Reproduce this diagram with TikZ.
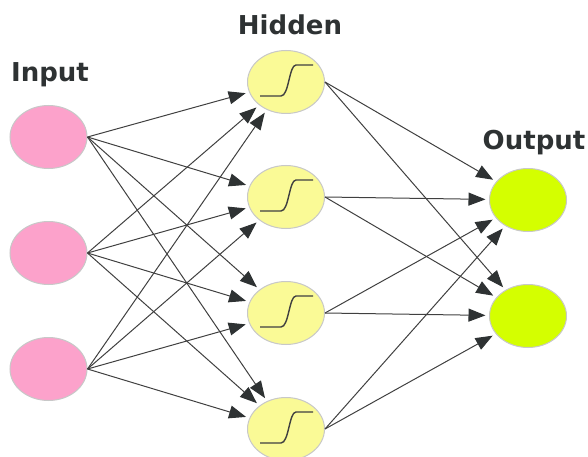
\documentclass[tikz,border=0pt]{standalone}
\usepackage{fontspec}
\usetikzlibrary{shapes.geometric,arrows.meta}
\newfontfamily\labelfont{DejaVu Sans}
\definecolor{inpink}{HTML}{FCA2CB}
\definecolor{hidyellow}{HTML}{FAFA96}
\definecolor{outgreen}{HTML}{D4FF00}
\definecolor{rimgray}{HTML}{C8C8C8}
\definecolor{wiregray}{HTML}{404040}
\definecolor{tipgray}{HTML}{2E3233}
\tikzset{
  neuron/.style={ellipse,draw=rimgray,line width=1pt,inner sep=0,
    minimum width=77pt,minimum height=63pt},
  layertitle/.style={font=\labelfont\bfseries\fontsize{26}{30}\selectfont,
    text=tipgray},
  wire/.style={draw=wiregray,line width=1pt,shorten >=3.5pt,
    -{Triangle[length=17pt,width=13pt,color=tipgray]}}
}

\begin{document}
\begin{tikzpicture}[x=1pt,y=-1pt]
      \useasboundingbox (0,0) rectangle (588,457);
      \node[layertitle] (tin) at (50,75) {Input};
      \node[layertitle] (thid) at (290,25) {Hidden};
      \node[layertitle] (tout) at (534,143) {Output};
      % layers
      \foreach \y [count=\i] in {137,253,369}
        \node[neuron,fill=inpink] (i\i) at (48.5,\y) {};
      \foreach \y [count=\i] in {82,197,313,429}
        \node[neuron,fill=hidyellow] (h\i) at (286,\y) {};
      \foreach \y [count=\i] in {200,316}
        \node[neuron,fill=outgreen] (o\i) at (528,\y) {};
      % sigmoid marks
      \foreach \i in {1,...,4}
        \draw[wiregray,line width=1.4pt] ([shift={(-26,14)}]h\i.center) -- ++(21,0)
          .. controls +(8,0) and +(-7,0) .. ++(15,-31) -- ++(17,0);
      % connections
      \foreach \i in {1,...,3}
        \foreach \j in {1,...,4}
          \draw[wire] (i\i.east) -- (h\j);
      \foreach \j in {1,...,4}
        \foreach \k in {1,2}
          \draw[wire] (h\j.east) -- (o\k);
    \end{tikzpicture}
\end{document}
